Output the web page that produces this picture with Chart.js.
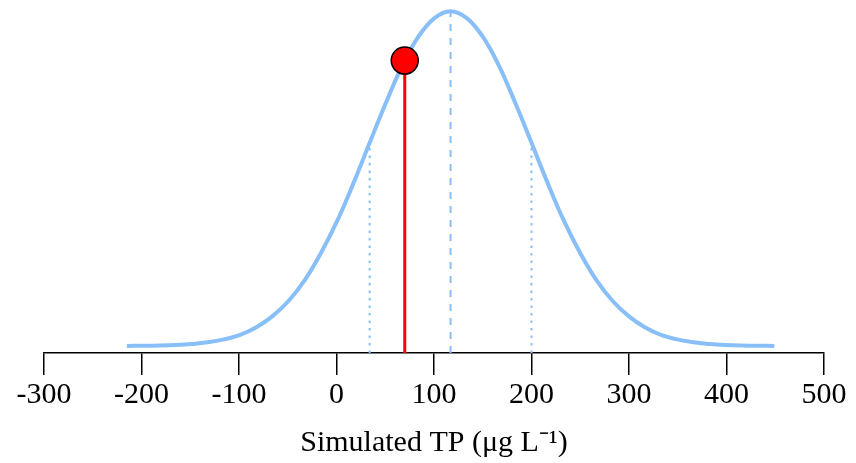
<!DOCTYPE html>
<html>
<head>
<meta charset="utf-8">
<script src="https://cdn.jsdelivr.net/npm/chart.js@4.4.0/dist/chart.umd.min.js"></script>
<style>
  body { margin: 0; background: #fff; }
  #wrap { width: 856px; height: 463px; }
</style>
</head>
<body>
<div id="wrap"><canvas id="grafica" width="856" height="463"></canvas></div>
<script>
// Curva de densidad del TP simulado
const tpX = [-215, -198.4, -181.8, -165.2, -148.6, -132, -115.4, -98.8, -82.2, -65.6,
             -49, -32.4, -15.8, 0.8, 17.4, 34, 50.6, 67.2, 83.8, 100.4,
             117, 133.6, 150.2, 166.8, 183.4, 200, 216.6, 233.2, 249.8, 266.4,
             283, 299.6, 316.2, 332.8, 349.4, 366, 382.6, 399.2, 415.8, 432.4, 449];
const densidad = [0.0000016, 0.0000034, 0.0000072, 0.000015, 0.000029, 0.000053, 0.000095, 0.00016, 0.00027, 0.00043,
                  0.00065, 0.00095, 0.00134, 0.00180, 0.00234, 0.00292, 0.00349, 0.00402, 0.00444, 0.00471,
                  0.00481, 0.00471, 0.00444, 0.00402, 0.00349, 0.00292, 0.00234, 0.00180, 0.00134, 0.00095,
                  0.00065, 0.00043, 0.00027, 0.00016, 0.000095, 0.000053, 0.000029, 0.000015, 0.0000072, 0.0000034, 0.0000016];

// media y +/- 1 desviacion
const media = 117;
const alturaMedia = 0.00481;
const desvios = [34, 200];
const alturaDesvio = 0.00292;

// valor observado (punto rojo)
const observadoX = 70;
const observadoY = 0.0041;

const xTicks = [-300, -200, -100, 0, 100, 200, 300, 400, 500];
const tituloX = 'Simulated TP (\u03bcg L\u207b\u00b9)';

const yMin = -0.0001;
const yMax = 0.00497;
const azul = '#88BFF8';

const curva = tpX.map((x, i) => ({ x: x, y: densidad[i] }));

const datasets = [
    {
        data: [{ x: observadoX, y: observadoY }],
        showLine: false,
        pointRadius: 13.5,
        pointBackgroundColor: '#FF0000',
        pointBorderColor: '#000000',
        pointBorderWidth: 1.5,
        order: 0
    },
    {
        data: [{ x: observadoX, y: yMin }, { x: observadoX, y: observadoY }],
        borderColor: '#FF0000',
        borderWidth: 3,
        pointRadius: 0,
        order: 1
    },
    {
        data: curva,
        borderColor: azul,
        borderWidth: 4,
        pointRadius: 0,
        tension: 0.4,
        order: 2
    },
    {
        data: [{ x: media, y: yMin }, { x: media, y: alturaMedia }],
        borderColor: azul,
        borderWidth: 2,
        borderDash: [7, 7],
        pointRadius: 0,
        order: 3
    }
];

desvios.forEach(d => {
    datasets.push({
        data: [{ x: d, y: yMin }, { x: d, y: alturaDesvio }],
        borderColor: azul,
        borderWidth: 2,
        borderDash: [2.5, 5],
        pointRadius: 0,
        order: 3
    });
});

new Chart(document.getElementById('grafica'), {
    type: 'line',
    data: { datasets: datasets },
    options: {
        responsive: false,
        animation: false,
        clip: false,
        layout: { autoPadding: false, padding: { left: 44, right: 32, top: 0, bottom: 0 } },
        plugins: { legend: { display: false }, tooltip: { enabled: false } },
        scales: {
            x: {
                type: 'linear',
                min: -300,
                max: 500,
                afterBuildTicks: axis => { axis.ticks = xTicks.map(v => ({ value: v })); },
                ticks: {
                    color: '#000',
                    padding: 2,
                    maxRotation: 0,
                    font: { family: '"Liberation Serif", "Times New Roman", serif', size: 30 }
                },
                grid: {
                    display: true,
                    drawOnChartArea: false,
                    drawTicks: true,
                    tickLength: 22,
                    color: '#000',
                    lineWidth: 1.5
                },
                border: { display: true, color: '#000', width: 1.5 },
                title: {
                    display: true,
                    text: tituloX,
                    color: '#000',
                    padding: { top: 10, bottom: 2 },
                    font: { family: '"Liberation Serif", "Times New Roman", serif', size: 30 }
                }
            },
            y: {
                display: false,
                min: yMin,
                max: yMax
            }
        }
    }
});
</script>
</body>
</html>
